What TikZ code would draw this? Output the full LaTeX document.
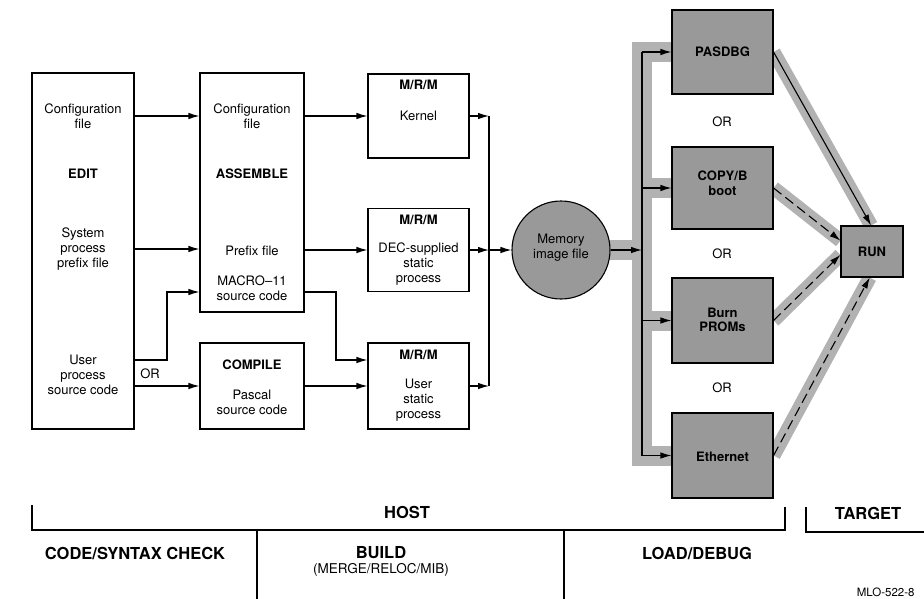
\documentclass[tikz,border=0pt]{standalone}
\usepackage{fontspec}
\setmainfont{TeX Gyre Heros}
\usetikzlibrary{arrows.meta,backgrounds}
\tikzset{box/.style={draw, inner sep=0pt},
         gbox/.style={draw, fill=black!40, inner sep=0pt},
         txt/.style={align=center, font=\fontsize{13}{15}\selectfont},
         hd/.style={align=center, font=\fontsize{13}{15}\selectfont\bfseries},
         ghd/.style={align=center, font=\fontsize{13}{14.5}\selectfont\bfseries},
         lbl/.style={font=\fontsize{16.5}{19}\selectfont\bfseries},
         arr/.style={-{Latex[length=11pt,width=6.5pt]}},
         band/.style={line width=20pt, draw=black!30, line cap=rect},
         thinband/.style={line width=14pt, draw=black!30},
         dsh/.style={dash pattern=on 10pt off 5pt}}

\begin{document}
\begin{tikzpicture}[x=1pt, y=-1pt, line width=1.1pt]
  \useasboundingbox (0,0) rectangle (924,598);

  % ---------- host boxes ----------
  \node[box, minimum width=102pt, minimum height=356pt] (edit) at (83,251){};
  \node[txt] (edcfg) at (83,116){Configuration\\file};
  \node[hd]  (edhd)  at (83,174){EDIT};
  \node[txt] (edsys) at (83,249){System\\process\\prefix file};
  \node[txt] (edusr) at (83,375){User\\process\\source code};

  \node[box, minimum width=104pt, minimum height=239pt] (asm) at (252,192.5){};
  \node[txt] (ascfg) at (252,116){Configuration\\file};
  \node[hd]  (ashd)  at (252,174){ASSEMBLE};
  \node[txt] (aspfx) at (252,251){Prefix file};
  \node[txt] (asmac) at (252,288){MACRO–11\\source code};

  \node[box, minimum width=104pt, minimum height=86pt] (comp) at (252,386){};
  \node[hd]  (cohd)  at (252,365){COMPILE};
  \node[txt] (copas) at (252,402){Pascal\\source code};

  \node[box, minimum width=101pt, minimum height=84pt] (kern) at (418.5,116){};
  \node[hd]  (kehd)  at (418.5,85){M/R/M};
  \node[txt] (ketx)  at (418.5,116){Kernel};

  \node[box, minimum width=101pt, minimum height=83pt] (dec) at (418.5,250){};
  \node[hd]  (dehd)  at (418.5,220){M/R/M};
  \node[txt] (detx)  at (418.5,264){DEC-supplied\\static\\process};

  \node[box, minimum width=101pt, minimum height=86pt] (usr) at (418.5,386){};
  \node[hd]  (ushd)  at (418.5,355){M/R/M};
  \node[txt] (ustx)  at (418.5,400){User\\static\\process};

  % ---------- edit -> assemble / compile ----------
  \coordinate (orup) at (167,360);
  \coordinate (orin) at (167,292);
  \draw[arr] (edit.east |- edcfg) -- (asm.west |- edcfg);
  \draw[arr] (edit.east |- edsys) -- (asm.west |- edsys);
  \draw[arr] (edit.east |- orup) -- (orup) -- (orin) -- (asm.west |- orin);
  \draw[arr] (edit.east |- comp) -- (comp.west);
  \node[txt] (or0) at (150,374){OR};

  % ---------- assemble / compile -> M/R/M ----------
  \coordinate (mcdn) at (336,292);
  \coordinate (mcin) at (336,360);
  \draw[arr] (asm.east |- kern) -- (kern.west);
  \draw[arr] (asm.east |- dec) -- (dec.west);
  \draw[arr] (asm.east |- mcdn) -- (mcdn) -- (mcin) -- (usr.west |- mcin);
  \draw[arr] (comp.east) -- (usr.west |- comp);

  % ---------- load/debug ----------
  \node[draw, circle, fill=black!40, minimum size=98pt, inner sep=0pt] (mem) at (561,250){};
  \coordinate (mbus) at (489,250);
  \coordinate (rbus) at (642,250);

  \node[gbox, minimum width=101pt, minimum height=84pt] (pas)  at (722.5,52){};
  \node[gbox, minimum width=101pt, minimum height=82pt] (copy) at (722.5,188){};
  \node[gbox, minimum width=101pt, minimum height=85pt] (burn) at (722.5,320.5){};
  \node[gbox, minimum width=101pt, minimum height=85pt] (eth)  at (722.5,455.5){};
  \node[gbox, minimum width=62pt,  minimum height=51pt] (run)  at (872,251.5){};

  % shaded bands behind the load paths
  \begin{scope}[on background layer]
    \draw[band] (mem.east) -- (rbus);
    \draw[band] (rbus |- pas) -- (rbus |- eth);
    \foreach \b in {pas,copy,burn,eth}
      \draw[band] (rbus |- \b) -- (\b.west);
    \draw[thinband] (pas.east) -- (run.92);
    \draw[thinband] (copy.east) -- (run.161);
    \draw[thinband] (burn.east) -- (run.186);
    \draw[thinband] (eth.east) -- (run.265);
  \end{scope}

  \node[txt] (memtx) at (561,248){Memory\\image file};
  \node[ghd] (pastx) at (722.5,52){PASDBG};
  \node[ghd] (cptx)  at (722.5,183){COPY/B\\boot};
  \node[ghd] (butx)  at (722.5,320){Burn\\PROMs};
  \node[ghd] (ettx)  at (722.5,457){Ethernet};
  \node[ghd] (runtx) at (872,251.5){RUN};
  \node[txt] (or1) at (722,122){OR};
  \node[txt] (or2) at (722,254){OR};
  \node[txt] (or3) at (722,388){OR};

  % ---------- M/R/M -> memory image ----------
  \draw[arr] (kern.east) -- (kern.east -| mbus);
  \draw (kern.east -| mbus) -- (usr.east -| mbus);
  \draw[arr] (usr.east) -- (usr.east -| mbus);
  \draw[arr] (dec.east) -- (mbus);
  \draw[arr] (mbus) -- (mem.west);

  % ---------- memory image -> loaders -> run ----------
  \draw[arr] (mem.east) -- (rbus);
  \draw (rbus |- pas) -- (rbus |- eth);
  \foreach \b in {pas,copy,burn,eth}
    \draw[arr] (rbus |- \b) -- (\b.west);
  \draw[arr] (pas.east) -- (run.92);
  \draw[arr, dsh] (copy.east) -- (run.161);
  \draw[arr, dsh] (burn.east) -- (run.186);
  \draw[arr, dsh] (eth.east) -- (run.265);

  % ---------- brackets and phases ----------
  \draw (32,505) -- (32,530) -- (785,530) -- (785,507);
  \node[lbl] (host) at (407,512){HOST};
  \draw (806,507) -- (806,532) -- (930,532);
  \node[lbl] (targ) at (868,513){TARGET};
  \draw (257,530) -- (257,600);
  \draw (564,530) -- (564,600);
  \node[lbl] (chk)  at (135,553){CODE/SYNTAX CHECK};
  \node[lbl] (bld)  at (381,553){BUILD};
  \node[txt, font=\fontsize{13.5}{15}\selectfont] (mrg) at (381,570){(MERGE/RELOC/MIB)};
  \node[lbl] (ldb)  at (697,553){LOAD/DEBUG};
  \node[txt, anchor=west, font=\fontsize{11.5}{13}\selectfont] (mlo) at (853,592){MLO-522-8};
\end{tikzpicture}
\end{document}
